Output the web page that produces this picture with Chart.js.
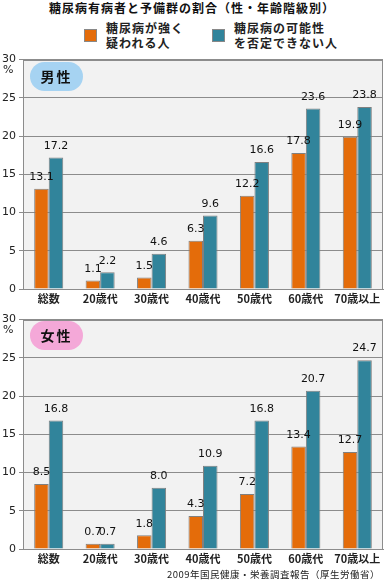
<!DOCTYPE html>
<html>
<head>
<meta charset="utf-8">
<script src="https://cdn.jsdelivr.net/npm/chart.js@4.4.1/dist/chart.umd.min.js"></script>
<style>
    body { margin:0; background:#fff; font-family:"Noto Sans CJK JP", sans-serif; }
    #wrap { position:relative; width:384px; height:580px; overflow:hidden; }
    .title { position:absolute; left:0; width:384px; top:0; text-align:center; font-weight:700; font-size:12px; line-height:16px; color:#111; letter-spacing:1px; }
    .lg-box { position:absolute; width:13px; height:13px; border:1px solid #888; box-sizing:border-box; }
    .lg-txt { position:absolute; font-weight:700; font-size:12px; line-height:15px; color:#222; letter-spacing:1px; }
    .badge { position:absolute; width:53px; height:29px; border-radius:15px; text-align:center; line-height:29px; font-weight:700; font-size:14px; color:#111; letter-spacing:2px; }
    .pct { position:absolute; left:3px; font-size:11px; font-family:"DejaVu Sans", sans-serif; color:#222; }
    .src { position:absolute; right:4px; top:568px; font-size:9.5px; line-height:12px; color:#222; letter-spacing:0.5px; }
    canvas { position:absolute; left:0; }
</style>
</head>
<body>
<div id="wrap">
    <div class="title">糖尿病有病者と予備群の割合（性・年齢階級別）</div>
    <div class="lg-box" style="left:84px;top:29px;background:#e46c0a"></div>
    <div class="lg-txt" style="left:106px;top:20px">糖尿病が強く<br>疑われる人</div>
    <div class="lg-box" style="left:212px;top:29px;background:#31849b"></div>
    <div class="lg-txt" style="left:234px;top:20px">糖尿病の可能性<br>を否定できない人</div>

    <div style="position:absolute;left:0;top:50px;width:384px;height:260px"><canvas id="maleChart"></canvas></div>
    <div style="position:absolute;left:0;top:310px;width:384px;height:260px"><canvas id="femaleChart"></canvas></div>

    <div class="pct" style="top:63px">%</div>
    <div class="pct" style="top:323px">%</div>
    <div class="badge" style="left:30px;top:62px;background:#a6d3f2">男性</div>
    <div class="badge" style="left:30px;top:321px;background:#f4a8d8">女性</div>

    <div class="src">2009年国民健康・栄養調査報告（厚生労働省）</div>
</div>

<script>
// ===== data =====
const ageGroups = ['総数', '20歳代', '30歳代', '40歳代', '50歳代', '60歳代', '70歳以上'];
const yTicks = [0, 5, 10, 15, 20, 25, 30];

const maleStrong = [13.1, 1.1, 1.5, 6.3, 12.2, 17.8, 19.9];
const malePossible = [17.2, 2.2, 4.6, 9.6, 16.6, 23.6, 23.8];
const femaleStrong = [8.5, 0.7, 1.8, 4.3, 7.2, 13.4, 12.7];
const femalePossible = [16.8, 0.7, 8.0, 10.9, 16.8, 20.7, 24.7];

// plot area background + frame
const plotBg = {
    id: 'plotBg',
    beforeDraw(chart) {
        const { ctx, chartArea: a } = chart;
        ctx.save();
        ctx.fillStyle = '#f2f2f2';
        ctx.fillRect(a.left, a.top, a.right - a.left, a.bottom - a.top);
        ctx.restore();
    },
    afterDraw(chart) {
        const { ctx, chartArea: a } = chart;
        ctx.save();
        ctx.strokeStyle = '#8c8c8c';
        ctx.lineWidth = 1;
        ctx.strokeRect(Math.round(a.left) + 0.5, Math.round(a.top) + 0.5, Math.round(a.right - a.left) - 1, Math.round(a.bottom - a.top));
        ctx.restore();
    }
};

// values above bars
const valueLabels = {
    id: 'valueLabels',
    afterDatasetsDraw(chart) {
        const { ctx } = chart;
        ctx.save();
        ctx.font = '11px "DejaVu Sans", sans-serif';
        ctx.fillStyle = '#111';
        ctx.textAlign = 'center';
        ctx.textBaseline = 'bottom';
        chart.data.datasets.forEach((ds, i) => {
            chart.getDatasetMeta(i).data.forEach((bar, j) => {
                ctx.fillText(ds.data[j].toFixed(1), bar.x, bar.y - 6);
            });
        });
        ctx.restore();
    }
};

function makeChart(id, strong, possible) {
    return new Chart(document.getElementById(id), {
        type: 'bar',
        data: {
            labels: ageGroups,
            datasets: [
                { label: '糖尿病が強く疑われる人', data: strong, backgroundColor: '#e46c0a', borderColor: '#808080', borderWidth: 1 },
                { label: '糖尿病の可能性を否定できない人', data: possible, backgroundColor: '#31849b', borderColor: '#808080', borderWidth: 1 }
            ]
        },
        options: {
            responsive: true, maintainAspectRatio: false, animation: false,
            layout: { padding: { top: 8, right: 1, left: 0, bottom: 0 } },
            datasets: { bar: { barPercentage: 1, categoryPercentage: 0.565 } },
            plugins: { legend: { display: false }, tooltip: { enabled: false } },
            scales: {
                x: {
                    grid: { display: false, drawTicks: false },
                    border: { color: '#8c8c8c' },
                    ticks: {
                        color: '#222', font: { family: '"Noto Sans CJK JP", sans-serif', size: 11, weight: 'bold', lineHeight: 1.3 },
                        padding: 3, maxRotation: 0, minRotation: 0, autoSkip: false
                    },
                    afterFit(s) { s.height = 21; }
                },
                y: {
                    min: 0, max: 30,
                    afterBuildTicks(s) { s.ticks = yTicks.map(v => ({ value: v })); },
                    grid: { color: '#8c8c8c', tickLength: 4, drawTicks: true },
                    border: { color: '#8c8c8c' },
                    ticks: { color: '#222', font: { family: '"DejaVu Sans", sans-serif', size: 11 }, padding: 3 },
                    afterFit(s) { s.width = 23; }
                }
            }
        },
        plugins: [plotBg, valueLabels]
    });
}

makeChart('maleChart', maleStrong, malePossible);
makeChart('femaleChart', femaleStrong, femalePossible);
</script>
</body>
</html>
